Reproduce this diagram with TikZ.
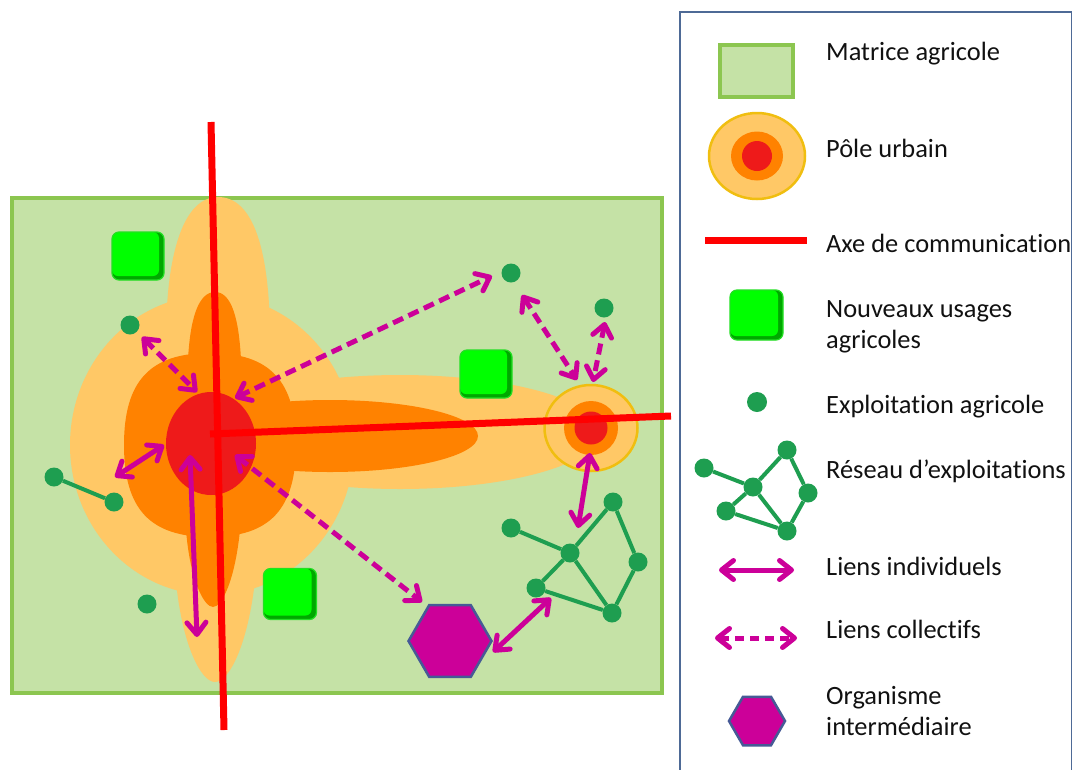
\documentclass[tikz,border=0pt]{standalone}
\usepackage{fontspec}
\setmainfont{Carlito}[Ligatures={NoCommon}]
\usetikzlibrary{arrows.meta,shapes.geometric}
\definecolor{matfill}{HTML}{C5E2A6}
\definecolor{matline}{HTML}{8CC650}
\definecolor{lorange}{HTML}{FFC866}
\definecolor{morange}{HTML}{FF8200}
\definecolor{cred}{HTML}{EE1A1A}
\definecolor{axred}{HTML}{FF0000}
\definecolor{gold}{HTML}{F0BE10}
\definecolor{dotg}{HTML}{1E9E50}
\definecolor{mag}{HTML}{CC0099}
\definecolor{hexb}{HTML}{465A96}
\definecolor{legframe}{HTML}{4E6A96}
\definecolor{gbright}{HTML}{00FF00}
\definecolor{gdark}{HTML}{00A800}
\definecolor{gedge}{HTML}{22E022}
\definecolor{txt}{HTML}{111111}
\begin{document}
\begin{tikzpicture}[x=1pt,y=-1pt,
  dot/.style={circle, fill=dotg, inner sep=0pt, minimum size=19pt},
  netline/.style={draw=dotg, line width=4pt},
  indiv/.style={draw=mag, line width=5pt, {Straight Barb[length=12pt,width=19pt,round]}-{Straight Barb[length=12pt,width=19pt,round]}},
  coll/.style={indiv, dash pattern=on 11pt off 6pt},
  newuse/.style={rectangle, rounded corners=7pt, minimum width=52pt, minimum height=48pt, inner sep=0pt,
    fill=gdark, draw=gedge, line width=1.2pt,
    path picture={\fill[gbright, rounded corners=6pt] (path picture bounding box.north west) rectangle ([xshift=-5pt,yshift=4pt]path picture bounding box.south east);}},
  hexa/.style={regular polygon, regular polygon sides=6, fill=mag, draw=hexb, line width=2.5pt, inner sep=0pt},
  legtext/.style={anchor=base west, inner sep=0pt, text=txt, font=\fontsize{26.4}{31}\selectfont},
  axis/.style={draw=axred, line width=7pt},
]
\useasboundingbox (0,0) rectangle (1073,769);
\fill[white] (0,0) rectangle (1073,769);

% ---------- agricultural matrix ----------
\node[rectangle, draw=matline, fill=matfill, line width=4pt, minimum width=650pt, minimum height=495pt, inner sep=0pt] (mat) at (337,445.5) {};

% ---------- main urban pole: light orange ----------
\fill[lorange] (212,445) ellipse [x radius=142, y radius=150];
\fill[lorange] (218,197) .. controls (254,197) and (270,252) .. (270,340) -- (256,570)
  .. controls (250,640) and (230,682) .. (215,682) .. controls (200,682) and (180,640) .. (175,570)
  -- (166,340) .. controls (166,252) and (184,197) .. (218,197) -- cycle;
\fill[lorange] (400,432) ellipse [x radius=200, y radius=57];
% orange
\fill[morange] (124,445) .. controls (124,381) and (150,353) .. (210,353)
  .. controls (270,353) and (296,381) .. (296,445)
  .. controls (296,509) and (270,537) .. (210,537)
  .. controls (150,537) and (124,509) .. (124,445) -- cycle;
\fill[morange] (215,292) .. controls (232,292) and (239,320) .. (241,360) -- (240,530)
  .. controls (235,580) and (222,607) .. (213,607) .. controls (204,607) and (190,580) .. (186,530)
  -- (188,360) .. controls (190,320) and (198,292) .. (215,292) -- cycle;
\fill[morange] (330,436) ellipse [x radius=148, y radius=36];
% red centre
\node[ellipse, fill=cred, minimum width=90pt, minimum height=103pt, inner sep=0pt] (cc) at (211,443.5) {};

% ---------- secondary urban pole ----------
\node[ellipse, fill=lorange, draw=gold, line width=2.5pt, minimum width=93pt, minimum height=86pt, inner sep=0pt] (sc) at (591,428) {};
\fill[morange] (sc.center) circle (27);
\fill[cred] (sc.center) circle (16.5);

% ---------- communication axes ----------
\coordinate (axn) at (211,122);
\coordinate (axs) at (224,730);
\coordinate (axw) at (210,434);
\coordinate (axe) at (671,416);
\draw[axis] (axn) -- (axs);
\draw[axis] (axw) -- (axe);

% ---------- new agricultural uses ----------
\node[newuse] (u1) at (138,256) {};
\node[newuse] (u2) at (486,374) {};
\node[newuse, minimum width=53pt, minimum height=51pt] (u3) at (290,594) {};

% ---------- farms ----------
\node[dot] (d1) at (130,325) {};
\node[dot] (d2) at (511,273) {};
\node[dot] (d3) at (604,308) {};
\node[dot] (d4) at (147,604) {};
\node[dot] (d5) at (54,477) {};
\node[dot] (d6) at (114,502) {};
\draw[netline] (d5) -- (d6);

% network
\node[dot] (n1) at (511,528) {};
\node[dot] (n2) at (570,553) {};
\node[dot] (n3) at (613,502) {};
\node[dot] (n4) at (638,562) {};
\node[dot] (n5) at (536,588) {};
\node[dot] (n6) at (612,613) {};
\draw[netline] (n1) -- (n2);
\draw[netline] (n2) -- (n3);
\draw[netline] (n3) -- (n4);
\draw[netline] (n4) -- (n6);
\draw[netline] (n2) -- (n6);
\draw[netline] (n2) -- (n5);
\draw[netline] (n5) -- (n6);

% ---------- intermediary body ----------
\node[hexa, minimum size=83pt] (hx) at (450,641) {};

% ---------- links ----------
\coordinate (i1a) at (115,477); \coordinate (i1b) at (164,445);
\coordinate (i2a) at (190,455); \coordinate (i2b) at (197,637);
\coordinate (i3a) at (590,453); \coordinate (i3b) at (578,528);
\coordinate (i4a) at (493,652); \coordinate (i4b) at (551,598);
\draw[indiv] (i1a) -- (i1b);
\draw[indiv] (i2a) -- (i2b);
\draw[indiv] (i3a) -- (i3b);
\draw[indiv] (i4a) -- (i4b);
\coordinate (c1a) at (142,337); \coordinate (c1b) at (197,392);
\coordinate (c2a) at (235,398); \coordinate (c2b) at (492,276);
\coordinate (c3a) at (522,295); \coordinate (c3b) at (577,380);
\coordinate (c4a) at (605,322); \coordinate (c4b) at (593,382);
\coordinate (c5a) at (235,455); \coordinate (c5b) at (422,602);
\draw[coll] (c1a) -- (c1b);
\draw[coll] (c2a) -- (c2b);
\draw[coll] (c3a) -- (c3b);
\draw[coll] (c4a) -- (c4b);
\draw[coll] (c5a) -- (c5b);

% ---------- legend ----------
\draw[legframe, line width=1.5pt] (680,800) -- (680,12) -- (1071.5,12) -- (1071.5,800);

\node[rectangle, draw=matline, fill=matfill, line width=4pt, minimum width=73pt, minimum height=52pt, inner sep=0pt] (lm) at (756.5,71) {};
\node[legtext] (tm) at (826,60) {Matrice agricole};

\node[ellipse, fill=lorange, draw=gold, line width=2.5pt, minimum width=96pt, minimum height=86pt, inner sep=0pt] (lp) at (757,156) {};
\fill[morange] (lp.center) ellipse [x radius=26, y radius=24.5];
\fill[cred] (lp.center) circle (15);
\node[legtext] (tp) at (826,157) {Pôle urbain};

\coordinate (la1) at (705,240); \coordinate (la2) at (807,240);
\draw[axis] (la1) -- (la2);
\node[legtext] (ta) at (826,252) {Axe de communication};

\node[newuse, minimum width=53pt, minimum height=50pt] (lu) at (756.5,315) {};
\node[legtext] (tu) at (826,317) {\begin{tabular}[t]{@{}l@{}}Nouveaux usages\\agricoles\end{tabular}};

\node[dot, minimum size=20pt] (ld) at (757,402) {};
\node[legtext] (td) at (826,413) {Exploitation agricole};

\node[dot] (ln1) at (704,468) {};
\node[dot] (ln2) at (753,487) {};
\node[dot] (ln3) at (787,450) {};
\node[dot] (ln4) at (808,493) {};
\node[dot] (ln5) at (726,511) {};
\node[dot] (ln6) at (787,531) {};
\draw[netline] (ln1) -- (ln2);
\draw[netline] (ln2) -- (ln3);
\draw[netline] (ln3) -- (ln4);
\draw[netline] (ln4) -- (ln6);
\draw[netline] (ln2) -- (ln6);
\draw[netline] (ln2) -- (ln5);
\draw[netline] (ln5) -- (ln6);
\node[legtext] (tn) at (826,478) {Réseau d’exploitations};

\coordinate (li1) at (719,570); \coordinate (li2) at (794,570);
\draw[indiv] (li1) -- (li2);
\node[legtext] (ti) at (826,575) {Liens individuels};

\coordinate (lc1) at (715,638); \coordinate (lc2) at (797,638);
\draw[coll, dash pattern=on 9pt off 6pt] (lc1) -- (lc2);
\node[legtext] (tc) at (826,638) {Liens collectifs};

\node[hexa, minimum size=56pt] (lh) at (757,721) {};
\node[legtext] (th) at (826,704) {\begin{tabular}[t]{@{}l@{}}Organisme\\intermédiaire\end{tabular}};
\end{tikzpicture}
\end{document}
